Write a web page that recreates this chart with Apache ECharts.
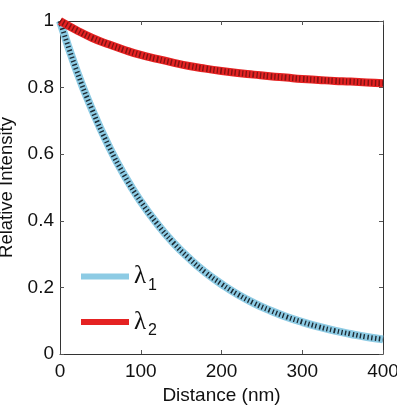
<!DOCTYPE html>
<html>
<head>
<meta charset="utf-8">
<script src="https://cdn.jsdelivr.net/npm/echarts@6/dist/echarts.min.js"></script>
<style>
    html, body { margin: 0; padding: 0; background: #fff; }
    #chart { width: 397px; height: 409px; }
</style>
</head>
<body>
<div id="chart"></div>
<script>
// distancias (nm) y valores
var distancia = [0, 20, 40, 60, 80, 100, 120, 140, 160, 180, 200, 220, 240, 260, 280, 300, 320, 340, 360, 380, 400];
var lambda1 = [1.0, 0.855, 0.732, 0.626, 0.535, 0.458, 0.392, 0.335, 0.287, 0.245, 0.21, 0.179, 0.153, 0.131, 0.112, 0.096, 0.082, 0.07, 0.06, 0.051, 0.044];
var lambda2 = [1.0, 0.973, 0.949, 0.93, 0.913, 0.898, 0.886, 0.875, 0.865, 0.857, 0.85, 0.844, 0.839, 0.834, 0.83, 0.826, 0.823, 0.82, 0.818, 0.815, 0.813];
var ticksX = [0, 100, 200, 300, 400];

var fuente = '"Liberation Sans", Arial, sans-serif';
var fuenteSerif = '"Liberation Serif", "Times New Roman", serif';

function pares(xs, ys) {
    return xs.map(function(x, i) { return [x, ys[i]]; });
}

var chart = echarts.init(document.getElementById('chart'), null, { renderer: 'canvas' });

var ejeX = {
    type: 'value', min: 0, max: 400, interval: 100,
    axisLine: { show: true, onZero: false, lineStyle: { color: '#333', width: 1 } },
    axisTick: { show: true, inside: true, length: 4, lineStyle: { color: '#555' } },
    splitLine: { show: false }
};
var ejeY = {
    type: 'value', min: 0, max: 1, interval: 0.2,
    axisLine: { show: true, onZero: false, lineStyle: { color: '#333', width: 1 } },
    axisTick: { show: true, inside: true, length: 4, lineStyle: { color: '#555' } },
    splitLine: { show: false }
};

chart.setOption({
    animation: false,
    grid: { left: 60, right: 14, top: 21, bottom: 55, outerBoundsMode: 'none', containLabel: false },
    legend: {
        orient: 'vertical',
        left: 76, top: 259,
        itemWidth: 48, itemHeight: 6,
        itemGap: 16,
        icon: 'rect',
        data: ['λ1', 'λ2'],
        formatter: function(name) { return '{l|λ}{s|' + name.slice(1) + '}'; },
        textStyle: {
            fontFamily: fuente,
            rich: {
                l: { fontSize: 25, color: '#111', fontFamily: fuenteSerif },
                s: { fontSize: 16, color: '#111', fontFamily: fuente, padding: [18, 0, 0, 2] }
            }
        }
    },
    xAxis: [
        Object.assign({}, ejeX, {
            position: 'bottom',
            name: 'Distance (nm)', nameLocation: 'middle', nameGap: 32,
            nameTextStyle: { fontFamily: fuente, fontSize: 19, color: '#111' },
            axisLabel: {
                fontFamily: fuente, fontSize: 19, color: '#111', margin: 8,
                customValues: ticksX
            }
        }),
        Object.assign({}, ejeX, { position: 'top', axisLabel: { show: false } })
    ],
    yAxis: [
        Object.assign({}, ejeY, {
            position: 'left',
            name: 'Relative Intensity', nameLocation: 'middle', nameGap: 40,
            nameTextStyle: { fontFamily: fuente, fontSize: 18.5, color: '#111' },
            axisLabel: { fontFamily: fuente, fontSize: 19, color: '#111', margin: 6 }
        }),
        Object.assign({}, ejeY, { position: 'right', axisLabel: { show: false } })
    ],
    series: [
        {
            name: 'λ1', type: 'line', smooth: true, symbol: 'none',
            data: pares(distancia, lambda1),
            itemStyle: { color: '#8dcbe4' },
            lineStyle: { color: '#8dcbe4', width: 8 }
        },
        {
            name: 'λ1 puntos', type: 'line', smooth: true, symbol: 'none',
            data: pares(distancia, lambda1),
            lineStyle: { color: '#1c2a33', width: 5, type: [1.4, 2.4] }
        },
        {
            name: 'λ2', type: 'line', smooth: true, symbol: 'none',
            data: pares(distancia, lambda2),
            itemStyle: { color: '#e52222' },
            lineStyle: { color: '#e52222', width: 8 }
        },
        {
            name: 'λ2 puntos', type: 'line', smooth: true, symbol: 'none',
            data: pares(distancia, lambda2),
            lineStyle: { color: '#5a0d0d', width: 6, type: [1.4, 2.2], opacity: 0.7 }
        }
    ]
});
</script>
</body>
</html>
